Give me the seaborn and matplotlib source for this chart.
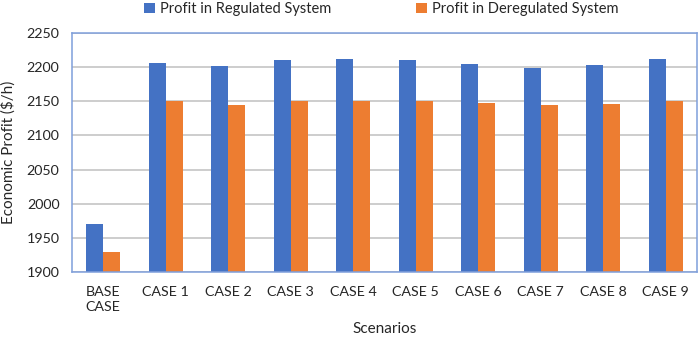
import matplotlib
matplotlib.use("Agg")
import matplotlib.pyplot as plt
import seaborn as sns
import pandas as pd
import numpy as np

categories = ["BASE\nCASE", "CASE 1", "CASE 2", "CASE 3", "CASE 4", "CASE 5",
              "CASE 6", "CASE 7", "CASE 8", "CASE 9"]
regulated = [1970, 2206, 2201, 2211, 2212, 2210, 2204, 2199, 2203, 2212]
deregulated = [1930, 2150, 2144, 2150, 2151, 2150, 2147, 2144, 2146, 2151]
series_names = ["Profit in Regulated System", "Profit in Deregulated System"]
yticks = [1900, 1950, 2000, 2050, 2100, 2150, 2200, 2250]

df = pd.DataFrame({
    "Scenario": categories * 2,
    "Profit": regulated + deregulated,
    "Series": [series_names[0]] * len(categories) + [series_names[1]] * len(categories),
})

sns.set_theme(style="white")
plt.rcParams["font.family"] = ["Lato", "DejaVu Sans"]

blue = "#4472C4"
orange = "#ED7D31"
axis_col = "#7F9FDB"
text_col = "#262626"

W, H = 699, 341
fig = plt.figure(figsize=(W / 100, H / 100), dpi=100)
left, right, top, bottom = 72, 697, 33, 272
ax = fig.add_axes([left / W, 1 - bottom / H, (right - left) / W, (bottom - top) / H])

sns.barplot(data=df, x="Scenario", y="Profit", hue="Series",
            palette=[blue, orange], width=0.544, ax=ax, legend=True,
            saturation=1, linewidth=0, edgecolor="none")

ax.set_ylim(1900, 2250)
ax.set_xlim(-0.5, len(categories) - 0.5)
ax.set_yticks(yticks)
ax.set_yticklabels([str(t) for t in yticks], fontsize=10.3, color=text_col)
ax.yaxis.grid(True, color="#C0C0C0", linewidth=1.1)
ax.set_axisbelow(True)

ax.set_xticks(range(len(categories)))
ax.set_xticklabels(categories, fontsize=10.3, color=text_col, linespacing=1.35)
ax.tick_params(axis="x", length=0, pad=10)
ax.tick_params(axis="y", length=5, width=1, color=axis_col, direction="out", pad=4)
ax.set_xticks(np.arange(-0.5, len(categories), 1.0), minor=True)
ax.tick_params(axis="x", which="minor", length=5, width=1, color=axis_col, direction="out")

for s in ax.spines.values():
    s.set_visible(True)
    s.set_color(axis_col)
    s.set_linewidth(1.1)

ax.set_xlabel("Scenarios", fontsize=11, color=text_col, labelpad=6)
ax.set_ylabel("Economic Profit ($/h)", fontsize=11, color=text_col, labelpad=8)

handles, labels = ax.get_legend_handles_labels()
ax.get_legend().remove()
fig.legend(handles, labels, loc="center", bbox_to_anchor=(381 / W, 1 - 9 / H),
           ncol=2, frameon=False, fontsize=10.5, handlelength=0.75, handleheight=0.75,
           columnspacing=5.8, handletextpad=0.35, borderaxespad=0, borderpad=0)

fig.savefig("out.png", dpi=100)
